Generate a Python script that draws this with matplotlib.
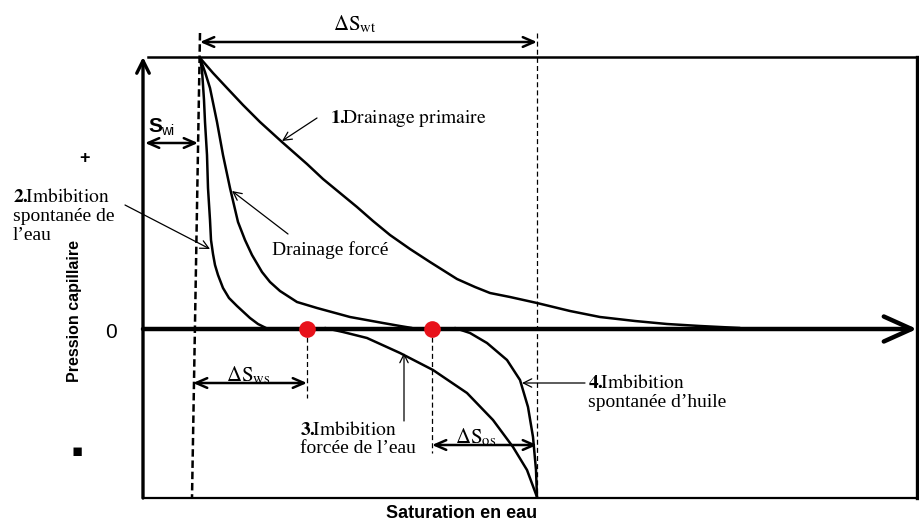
import matplotlib
matplotlib.use("Agg")
import matplotlib.pyplot as plt

plt.rcParams.update({"font.family": "Liberation Serif", "mathtext.fontset": "stix"})

# schematic, in pixel units (x = saturation, y = capillary pressure, y grows downward)
ZERO_Y = 329
TOP_Y, BOT_Y = 57, 498
LEFT_X, RIGHT_X = 143, 917
SWI_X, SWT_X = 200, 537
DOTS_X = [307, 432]

drainage_primaire_x = [200, 213, 227, 243, 260, 282, 307, 323, 340, 357, 373, 390, 410, 430, 457, 475,
                       490, 510, 537, 570, 600, 635, 667, 700, 740]
drainage_primaire_y = [58, 73, 88, 105, 122, 142, 164, 179, 193, 207, 221, 235, 249, 262, 279, 287,
                       293, 297, 303, 311, 317, 321, 324, 326, 328]

imb_spont_eau_x = [200, 202, 204, 205, 207, 208, 210, 211, 213, 215, 218, 223, 229, 237, 250, 258, 266]
imb_spont_eau_y = [58, 70, 100, 122, 155, 188, 220, 240, 254, 265, 275, 288, 298, 306, 318, 324, 328]

drainage_force_x = [200, 205, 210, 217, 223, 230, 238, 245, 252, 262, 270, 280, 297, 317, 350, 383, 400, 412]
drainage_force_y = [58, 72, 88, 122, 155, 188, 222, 240, 255, 272, 282, 291, 302, 308, 317, 323, 326, 328]

imb_force_eau_x = [325, 343, 367, 400, 433, 467, 493, 513, 527, 537]
imb_force_eau_y = [328, 332, 338, 353, 370, 393, 420, 447, 470, 497]

imb_spont_huile_x = [455, 470, 487, 507, 520, 528, 533, 536, 537]
imb_spont_huile_y = [328, 333, 343, 360, 380, 407, 437, 470, 497]

fig = plt.figure(figsize=(9.2, 5.23), dpi=100)
ax = fig.add_axes([0, 0, 1, 1])
ax.set_xlim(0, 920); ax.set_ylim(523, 0); ax.axis("off")

K = "black"
# frame
ax.plot([148, RIGHT_X], [TOP_Y, TOP_Y], color=K, lw=1.8)
ax.plot([RIGHT_X, RIGHT_X], [TOP_Y, BOT_Y], color=K, lw=2.4)
ax.plot([LEFT_X, RIGHT_X], [BOT_Y, BOT_Y], color=K, lw=1.6)
ax.annotate("", xy=(LEFT_X, TOP_Y), xytext=(LEFT_X, BOT_Y),
            arrowprops=dict(arrowstyle="->,head_length=0.9,head_width=0.45", lw=2.4, color=K, shrinkA=0, shrinkB=0))
ax.annotate("", xy=(RIGHT_X, ZERO_Y), xytext=(LEFT_X, ZERO_Y),
            arrowprops=dict(arrowstyle="->,head_length=2.0,head_width=0.9", lw=3.2, color=K, shrinkA=0, shrinkB=0))

# guide lines
ax.plot([SWI_X, 192], [33, BOT_Y], color=K, lw=1.8, ls=(0, (3, 1.5)))
ax.plot([SWT_X, SWT_X], [33, BOT_Y], color=K, lw=0.9, ls=(0, (4, 2.5)))
ax.plot([DOTS_X[0]] * 2, [ZERO_Y, 398], color=K, lw=0.9, ls=(0, (4, 2.5)))
ax.plot([DOTS_X[1]] * 2, [ZERO_Y, 453], color=K, lw=0.9, ls=(0, (4, 2.5)))

# curves
for cx, cy in [(drainage_primaire_x, drainage_primaire_y), (imb_spont_eau_x, imb_spont_eau_y),
               (drainage_force_x, drainage_force_y), (imb_force_eau_x, imb_force_eau_y),
               (imb_spont_huile_x, imb_spont_huile_y)]:
    ax.plot(cx, cy, color=K, lw=1.8, solid_capstyle="round", solid_joinstyle="round")

ax.plot(DOTS_X, [ZERO_Y] * 2, "o", color="#E8121B", ms=12, mec="none", zorder=5)

# double arrows
def span(x0, x1, y):
    ax.annotate("", xy=(x1, y), xytext=(x0, y),
                arrowprops=dict(arrowstyle="<->,head_length=0.8,head_width=0.35", lw=1.8, color=K, shrinkA=0, shrinkB=0))

span(SWI_X, SWT_X, 42)
span(145, 198, 143)
span(193, DOTS_X[0], 383)
span(DOTS_X[1], SWT_X, 445)

ax.text(355, 30, r"$\Delta\mathrm{S}_{\mathrm{wt}}$", fontsize=15, ha="center", va="baseline")
ax.text(248, 381, r"$\Delta\mathrm{S}_{\mathrm{ws}}$", fontsize=15, ha="center", va="baseline")
ax.text(476, 443, r"$\Delta\mathrm{S}_{\mathrm{os}}$", fontsize=15, ha="center", va="baseline")
ax.text(148, 132, "S", family="Liberation Sans", fontweight="bold", fontsize=15, va="baseline")
ax.text(161, 135, "wi", family="Liberation Sans", fontsize=10, va="baseline")

# annotations
def pointer(x0, y0, x1, y1):
    ax.annotate("", xy=(x1, y1), xytext=(x0, y0),
                arrowprops=dict(arrowstyle="->,head_length=0.6,head_width=0.3", lw=0.9, color=K, shrinkA=0, shrinkB=0))

FS = 14
ax.text(330, 123, r"$\mathbf{1.}\!\!\mathrm{Drainage\ primaire}$", fontsize=FS, va="baseline")
pointer(317, 118, 282, 141)
ax.text(13, 202, r"$\mathbf{2.}\!\!\mathrm{Imbibition}$", fontsize=FS, va="baseline")
ax.text(13, 221, "spontanée de", fontsize=FS, va="baseline")
ax.text(13, 240, "l’eau", fontsize=FS, va="baseline")
pointer(125, 205, 210, 249)
ax.text(272, 255, "Drainage forcé", fontsize=FS, va="baseline")
pointer(288, 234, 232, 191)
ax.text(300, 435, r"$\mathbf{3.}\!\!\mathrm{Imbibition}$", fontsize=FS, va="baseline")
ax.text(300, 453, "forcée de l’eau", fontsize=FS, va="baseline")
pointer(404, 421, 404, 353)
ax.text(588, 388, r"$\mathbf{4.}\!\!\mathrm{Imbibition}$", fontsize=FS, va="baseline")
ax.text(588, 407, "spontanée d’huile", fontsize=FS, va="baseline")
pointer(585, 383, 522, 383)

# axis labels and signs
ax.text(75, 311, "Pression capillaire", family="Liberation Sans", fontweight="bold", fontsize=11.5,
        rotation=90, ha="center", va="center")
ax.text(462, 513, "Saturation en eau", family="Liberation Sans", fontweight="bold", fontsize=13,
        ha="center", va="center")
ax.text(85, 158, "+", family="Liberation Sans", fontweight="bold", fontsize=13, ha="center", va="center")
ax.text(111, 333, "0", family="Liberation Sans", fontsize=15, ha="center", va="center")
ax.text(77, 451, "▪", family="DejaVu Sans", fontsize=12, ha="center", va="center")

fig.savefig("out.png", dpi=100, facecolor="white")
